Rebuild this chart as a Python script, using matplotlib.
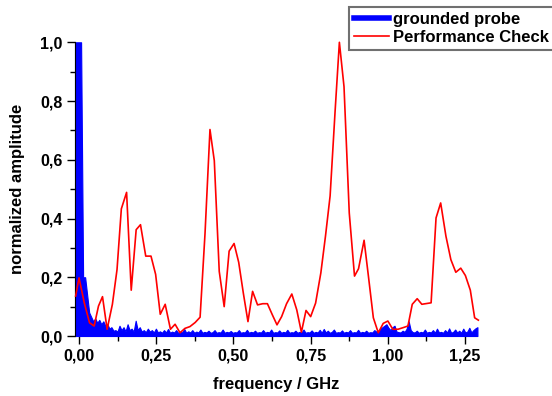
import numpy as np
import matplotlib
matplotlib.use("Agg")
import matplotlib.pyplot as plt
from matplotlib.ticker import MultipleLocator, FuncFormatter

plt.rcParams['font.family'] = ['Liberation Sans', 'DejaVu Sans']
plt.rcParams['font.weight'] = 'bold'

# Performance Check (red)
f_check = [-0.011, 0.0, 0.017, 0.034, 0.049, 0.063, 0.076, 0.091, 0.108, 0.123,
           0.137, 0.154, 0.169, 0.185, 0.199, 0.216, 0.233, 0.248, 0.263, 0.279,
           0.296, 0.311, 0.327, 0.343, 0.359, 0.376, 0.392, 0.408, 0.424, 0.438,
           0.454, 0.470, 0.486, 0.502, 0.517, 0.532, 0.547, 0.562, 0.578, 0.595,
           0.610, 0.626, 0.641, 0.656, 0.672, 0.689, 0.705, 0.720, 0.735, 0.750,
           0.766, 0.783, 0.798, 0.813, 0.829, 0.843, 0.858, 0.875, 0.892, 0.905,
           0.923, 0.937, 0.953, 0.969, 0.985, 1.000, 1.016, 1.033, 1.048, 1.065,
           1.079, 1.095, 1.110, 1.140, 1.156, 1.171, 1.188, 1.204, 1.220, 1.236,
           1.251, 1.267, 1.281, 1.293]
a_check = [0.136, 0.198, 0.113, 0.045, 0.034, 0.102, 0.134, 0.023, 0.108, 0.226,
           0.433, 0.489, 0.156, 0.362, 0.379, 0.272, 0.272, 0.210, 0.074, 0.108,
           0.023, 0.040, 0.011, 0.026, 0.032, 0.046, 0.064, 0.350, 0.703, 0.597,
           0.220, 0.100, 0.289, 0.315, 0.251, 0.146, 0.049, 0.152, 0.106, 0.110,
           0.110, 0.072, 0.038, 0.066, 0.110, 0.143, 0.089, 0.013, 0.087, 0.066,
           0.112, 0.215, 0.340, 0.477, 0.763, 1.000, 0.849, 0.419, 0.204, 0.229,
           0.326, 0.204, 0.062, 0.011, 0.043, 0.051, 0.023, 0.023, 0.028, 0.034,
           0.108, 0.127, 0.108, 0.113, 0.402, 0.453, 0.340, 0.260, 0.217, 0.231,
           0.206, 0.156, 0.062, 0.054]

# grounded probe (blue), evenly sampled from -0.013 to 1.29 GHz
a_probe = [
    1.0, 1.0, 1.0, 1.0, 0.2, 0.2, 0.14, 0.08, 0.065, 0.05, 0.06, 0.045, 0.055, 0.04, 0.05, 0.035, 0.04, 0.025, 0.03, 0.018,
    0.02, 0.015, 0.035, 0.02, 0.03, 0.016, 0.04, 0.02, 0.025, 0.015, 0.052, 0.02, 0.03, 0.015, 0.02, 0.013, 0.025, 0.015, 0.02, 0.012,
    0.025, 0.012, 0.016, 0.011, 0.02, 0.012, 0.024, 0.011, 0.015, 0.012, 0.02, 0.011, 0.015, 0.012, 0.024, 0.011, 0.016, 0.012, 0.02, 0.011,
    0.015, 0.012, 0.022, 0.011, 0.014, 0.012, 0.018, 0.011, 0.013, 0.02, 0.011, 0.013, 0.012, 0.022, 0.011, 0.014, 0.012, 0.017, 0.011, 0.013,
    0.012, 0.02, 0.011, 0.013, 0.012, 0.021, 0.011, 0.014, 0.012, 0.018, 0.011, 0.013, 0.012, 0.02, 0.011, 0.014, 0.012, 0.022, 0.011, 0.013,
    0.012, 0.019, 0.011, 0.014, 0.012, 0.021, 0.011, 0.013, 0.012, 0.018, 0.011, 0.014, 0.012, 0.022, 0.011, 0.013, 0.012, 0.019, 0.011, 0.014,
    0.012, 0.021, 0.011, 0.024, 0.012, 0.018, 0.011, 0.014, 0.022, 0.011, 0.013, 0.012, 0.019, 0.011, 0.014, 0.012, 0.02, 0.011, 0.013, 0.012,
    0.021, 0.011, 0.014, 0.012, 0.018, 0.011, 0.013, 0.012, 0.02, 0.015, 0.018, 0.025, 0.03, 0.035, 0.04, 0.028, 0.02, 0.03, 0.035, 0.015,
    0.013, 0.012, 0.018, 0.014, 0.025, 0.05, 0.02, 0.013, 0.012, 0.018, 0.011, 0.014, 0.012, 0.022, 0.011, 0.014, 0.012, 0.02, 0.011, 0.025,
    0.012, 0.014, 0.011, 0.02, 0.012, 0.026, 0.011, 0.014, 0.022, 0.012, 0.018, 0.011, 0.025, 0.012, 0.015, 0.028, 0.012, 0.02, 0.026, 0.03,
]
f_probe = np.linspace(-0.013, 1.29, len(a_probe))

fig = plt.figure(figsize=(5.52, 3.96), dpi=100)
ax = fig.add_axes([0.1359, 0.1515, 0.729, 0.7417])

ax.fill_between(f_probe, 0, a_probe, color='#0000ff', edgecolor='#0000ff',
                linewidth=0.8, zorder=2, clip_on=False)
ax.plot([], [], color='#0000ff', linewidth=4, label='grounded probe')
ax.plot(f_check, a_check, color='#ff0000', linewidth=1.2, zorder=3, clip_on=False, label='Performance Check')

ax.set_xlim(-0.013, 1.29)
ax.set_ylim(0, 1.0)

ax.xaxis.set_major_locator(MultipleLocator(0.25))
ax.xaxis.set_minor_locator(MultipleLocator(0.125))
ax.yaxis.set_major_locator(MultipleLocator(0.2))
ax.yaxis.set_minor_locator(MultipleLocator(0.1))
ax.xaxis.set_major_formatter(FuncFormatter(lambda v, p: ('%.2f' % v).replace('.', ',')))
ax.yaxis.set_major_formatter(FuncFormatter(lambda v, p: ('%.1f' % v).replace('.', ',')))

ax.tick_params(which='major', direction='out', length=6, width=1, labelsize=11.5, pad=3)
ax.tick_params(which='minor', direction='out', length=3.5, width=1)
for s in ['top', 'right', 'bottom']:
    ax.spines[s].set_visible(False)

ax.set_xlabel('frequency / GHz', fontsize=12, fontweight='bold', labelpad=10)
ax.set_ylabel('normalized amplitude', fontsize=12, fontweight='bold', labelpad=11)

leg = fig.legend(loc='upper left', bbox_to_anchor=(0.632, 0.982), fontsize=12,
                 frameon=True, fancybox=False, edgecolor='#707070', framealpha=1,
                 handlelength=2.1, handletextpad=0.25, labelspacing=0.15,
                 borderpad=0.3, borderaxespad=0)
leg.get_frame().set_linewidth(1.5)

fig.savefig('out.png', dpi=100)
